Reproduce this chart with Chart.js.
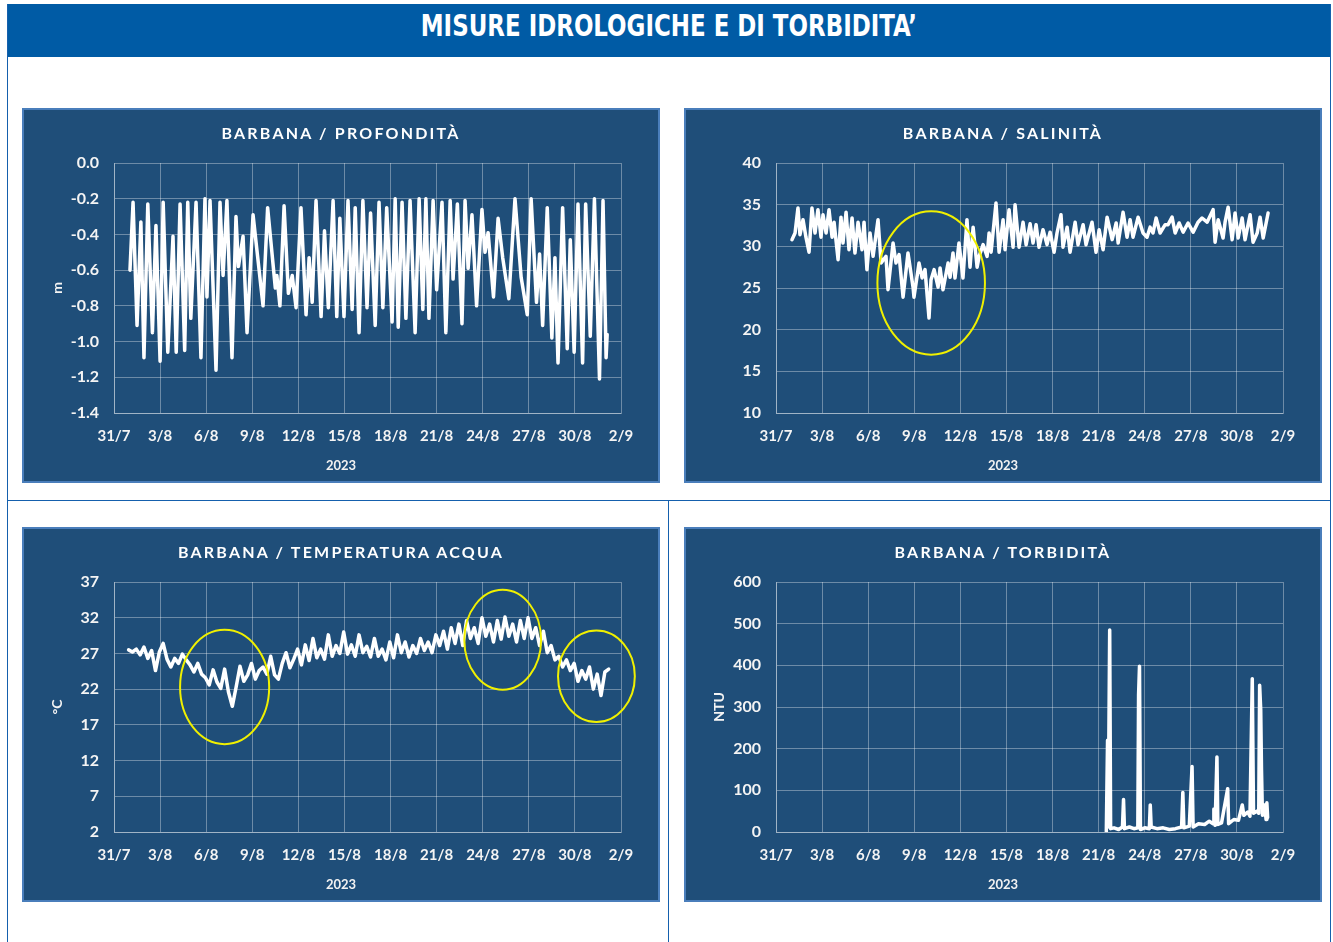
<!DOCTYPE html>
<html>
<head>
<meta charset="utf-8">
<title>Misure idrologiche e di torbidità</title>
<script src="https://cdn.jsdelivr.net/npm/chart.js@4.4.0/dist/chart.umd.min.js"></script>
<style>
  body { margin: 0; width: 1333px; height: 942px; background: #fff; position: relative; overflow: hidden; font-family: Lato, "Open Sans", sans-serif; }
  #header { position: absolute; left: 7px; top: 4px; width: 1323px; height: 53px; background: #005ba5; color: #fff;
    text-align: center; font: bold 30px "Liberation Sans Narrow", "DejaVu Sans Condensed", sans-serif; line-height: 30px; padding-top: 7px; box-sizing: border-box; }
  #header span { display: inline-block; transform: scaleX(0.85); transform-origin: center; }
  .line { position: absolute; background: #1560ad; }
  .panel { position: absolute; width: 638px; height: 375px; background: #1f4e79; border: 2px solid #4a7ebb; box-sizing: border-box; }
  .panel h2 { position: absolute; left: 0; right: 0; top: 13px; margin: 0; text-align: center; color: #fff;
    font: bold 16px Lato, sans-serif; line-height: 20px; letter-spacing: 2.2px; z-index: 2; }
  .panel .year { position: absolute; left: 0; right: 0; top: 347px; text-align: center; color: #f2f2f2;
    font: bold 13px Lato, sans-serif; line-height: 16px; z-index: 2; }
  .panel canvas { position: absolute; left: 0; top: 0; }
</style>
</head>
<body>
<div id="header"><span>MISURE IDROLOGICHE E DI TORBIDITA’</span></div>
<div class="line" style="left:7px;top:4px;width:1px;height:938px"></div>
<div class="line" style="left:1330px;top:4px;width:1px;height:938px"></div>
<div class="line" style="left:7px;top:500px;width:1324px;height:1px"></div>
<div class="line" style="left:668px;top:500px;width:1px;height:442px"></div>

<div class="panel" style="left:22px;top:108px"><h2>BARBANA / PROFONDITÀ</h2><canvas id="cDepth" width="634" height="371"></canvas><div class="year">2023</div></div>
<div class="panel" style="left:684px;top:108px"><h2>BARBANA / SALINITÀ</h2><canvas id="cSal" width="634" height="371"></canvas><div class="year">2023</div></div>
<div class="panel" style="left:22px;top:527px"><h2>BARBANA / TEMPERATURA ACQUA</h2><canvas id="cTemp" width="634" height="371"></canvas><div class="year">2023</div></div>
<div class="panel" style="left:684px;top:527px"><h2>BARBANA / TORBIDITÀ</h2><canvas id="cTurb" width="634" height="371"></canvas><div class="year">2023</div></div>

<script>
// x axis: days counted from 31/7 00:00
const tickLabels = ['31/7', '3/8', '6/8', '9/8', '12/8', '15/8', '18/8', '21/8', '24/8', '27/8', '30/8', '2/9'];

// depth (m), highs and lows
const depthDay = [1.04, 1.24, 1.5, 1.75, 1.95, 2.2, 2.5, 2.73, 3.0, 3.2, 3.5, 3.84, 4.05, 4.3, 4.6, 4.8, 5.0, 5.34, 5.66, 5.92,
  6.05, 6.25, 6.64, 6.9, 7.1, 7.35, 7.68, 7.94, 8.1, 8.4, 8.66, 9.05, 9.7, 10.0, 10.5, 10.6, 10.8, 11.07, 11.35, 11.6,
  11.85, 12.17, 12.5, 12.7, 12.9, 13.15, 13.48, 13.7, 13.95, 14.26, 14.5, 14.7, 14.97, 15.23, 15.5, 15.7, 15.95, 16.2, 16.47, 16.7,
  17.0, 17.25, 17.5, 17.75, 18.1, 18.3, 18.5, 18.75, 19.0, 19.27, 19.6, 19.86, 20.1, 20.3, 20.5, 20.77, 21.0, 21.35, 21.6, 21.88,
  22.07, 22.35, 22.65, 22.85, 23.05, 23.3, 23.6, 23.95, 24.15, 24.35, 24.7, 25.0, 25.3, 25.7, 26.1, 26.5, 26.9, 27.15, 27.5, 27.7,
  27.9, 28.2, 28.5, 28.7, 28.9, 29.2, 29.5, 29.7, 29.95, 30.2, 30.5, 30.7, 31.0, 31.27, 31.6, 31.83, 32.03, 32.1];
const depthVal = [-0.60, -0.22, -0.91, -0.33, -1.09, -0.23, -0.95, -0.35, -1.11, -0.22, -1.06, -0.41, -1.06, -0.23, -1.05, -0.22, -0.87, -0.22, -1.09, -0.20,
  -0.75, -0.21, -1.16, -0.22, -0.63, -0.21, -1.09, -0.30, -0.58, -0.41, -0.95, -0.29, -0.80, -0.25, -0.70, -0.63, -0.80, -0.24, -0.73, -0.63,
  -0.81, -0.25, -0.85, -0.53, -0.78, -0.21, -0.86, -0.38, -0.81, -0.21, -0.86, -0.31, -0.86, -0.21, -0.82, -0.25, -0.95, -0.21, -0.81, -0.28,
  -0.91, -0.22, -0.81, -0.25, -0.89, -0.20, -0.92, -0.22, -0.87, -0.21, -0.95, -0.20, -0.82, -0.20, -0.87, -0.21, -0.71, -0.22, -0.95, -0.21,
  -0.65, -0.23, -0.90, -0.21, -0.59, -0.29, -0.80, -0.26, -0.50, -0.39, -0.75, -0.31, -0.53, -0.76, -0.20, -0.64, -0.85, -0.20, -0.78, -0.51,
  -0.91, -0.25, -0.98, -0.53, -1.12, -0.25, -1.04, -0.43, -1.06, -0.23, -1.12, -0.23, -0.97, -0.20, -1.21, -0.21, -1.09, -0.96];

// salinity
const salDay = [1.04, 1.24, 1.43, 1.56, 1.76, 1.95, 2.15, 2.34, 2.54, 2.73, 2.93, 3.06, 3.26, 3.45, 3.65, 3.78, 4.04, 4.23, 4.36, 4.56,
  4.75, 4.95, 5.14, 5.34, 5.6, 5.73, 5.92, 6.12, 6.32, 6.64, 6.84, 7.16, 7.29, 7.62, 7.81, 8.01, 8.27, 8.59, 8.92, 8.98,
  9.31, 9.51, 9.7, 9.96, 10.09, 10.29, 10.55, 10.68, 10.87, 11.2, 11.33, 11.52, 11.65, 11.91, 12.17, 12.43, 12.63, 12.83, 13.09, 13.22,
  13.48, 13.74, 13.87, 14.0, 14.32, 14.52, 14.78, 14.91, 15.17, 15.43, 15.56, 15.82, 16.08, 16.28, 16.54, 16.73, 16.93, 17.12, 17.38, 17.64,
  17.84, 18.1, 18.29, 18.55, 18.68, 18.95, 19.14, 19.47, 19.66, 19.99, 20.18, 20.57, 20.83, 21.03, 21.29, 21.55, 21.88, 22.14, 22.27, 22.59,
  22.85, 23.05, 23.24, 23.57, 23.89, 24.15, 24.35, 24.54, 24.74, 25.0, 25.33, 25.52, 25.78, 25.98, 26.24, 26.5, 26.82, 27.15, 27.47, 27.73,
  28.06, 28.45, 28.58, 28.78, 29.1, 29.23, 29.43, 29.69, 29.88, 30.08, 30.34, 30.53, 30.86, 31.05, 31.32, 31.51, 31.71, 32.03];
const salVal = [30.8, 31.6, 34.6, 31.4, 33.2, 31.1, 29.3, 34.6, 31.6, 34.4, 31.1, 33.8, 31.6, 34.4, 31.1, 32.9, 28.4, 33.5, 30.4, 34.1,
  29.6, 33.4, 29.2, 32.9, 29.6, 32.9, 27.2, 31.6, 28.8, 33.2, 28.0, 28.8, 24.8, 30.4, 28.0, 29.0, 23.9, 29.2, 25.1, 23.9,
  28.0, 26.2, 27.2, 21.4, 26.0, 27.2, 25.1, 27.4, 24.8, 28.0, 26.3, 29.2, 26.2, 30.4, 26.2, 33.2, 27.5, 32.3, 27.5, 28.8,
  30.2, 28.8, 31.6, 29.3, 35.2, 29.3, 33.2, 29.6, 34.4, 29.9, 35.0, 29.9, 32.9, 30.2, 32.7, 30.4, 32.6, 29.9, 32.0, 30.2,
  31.7, 29.3, 31.6, 33.8, 29.9, 32.3, 29.3, 32.9, 30.2, 32.6, 30.2, 32.9, 29.3, 32.0, 29.6, 33.5, 30.8, 32.8, 30.4, 34.1,
  31.1, 33.2, 31.1, 33.5, 31.6, 31.1, 32.3, 31.6, 33.4, 31.6, 32.6, 32.6, 33.5, 31.6, 32.8, 31.7, 32.8, 31.7, 32.9, 33.4,
  32.9, 34.4, 30.5, 33.2, 31.0, 32.9, 34.7, 30.8, 34.0, 31.0, 33.4, 30.8, 33.8, 30.5, 31.6, 33.5, 31.0, 34.0];

// water temperature, four readings a day from 1/8 to 1/9
const tempStart = 0.95;
const tempStep = 0.25;
const tempVal = [
  27.5, 27.2, 27.6, 26.8, 27.9, 26.3, 27.4, 24.6, 27.2, 28.4, 26.2, 25.1, 26.3, 25.6, 26.9, 26.1,
  25.4, 24.4, 25.6, 24.1, 23.6, 22.6, 24.7, 23.0, 22.1, 24.8, 21.6, 19.6, 22.3, 25.2, 23.1, 24.0,
  25.6, 23.4, 24.6, 25.1, 24.1, 26.6, 24.0, 23.4, 25.6, 27.1, 25.0, 26.2, 27.6, 25.4, 28.2, 26.0,
  29.1, 26.4, 27.6, 26.2, 29.6, 26.6, 28.1, 27.0, 30.0, 26.9, 28.2, 26.6, 29.6, 27.1, 28.0, 26.5,
  29.1, 26.6, 27.6, 26.1, 28.6, 26.4, 29.6, 27.1, 28.6, 26.5, 28.1, 27.0, 29.1, 27.4, 28.6, 27.1,
  29.6, 28.1, 30.1, 27.6, 30.6, 28.4, 31.1, 28.1, 31.6, 29.1, 30.6, 28.4, 32.0, 29.4, 31.1, 28.6,
  31.6, 29.0, 32.1, 29.4, 31.1, 28.6, 31.6, 29.1, 32.0, 29.1, 30.6, 28.1, 30.1, 27.1, 28.1, 26.1,
  26.6, 25.1, 26.1, 24.6, 25.6, 23.1, 24.6, 23.4, 25.1, 22.0, 24.1, 21.1, 24.4, 24.8];

// turbidity (NTU), only from 21/8
const turbDay = [21.5, 21.58, 21.62, 21.72, 21.78, 22.0, 22.3, 22.55, 22.62, 22.68, 23.0, 23.3, 23.55, 23.6, 23.66, 23.72, 24.0, 24.3, 24.36, 24.42,
  24.8, 25.2, 25.6, 26.0, 26.4, 26.48, 26.55, 26.9, 27.08, 27.15, 27.5, 27.9, 28.2, 28.45, 28.5, 28.58, 28.7, 28.76, 29.0, 29.4,
  29.46, 29.8, 30.1, 30.35, 30.45, 30.7, 30.85, 31.0, 31.08, 31.3, 31.42, 31.48, 31.55, 31.6, 31.66, 31.8, 31.9, 31.95, 32.0];
const turbVal = [2, 220, 12, 485, 8, 10, 6, 12, 78, 8, 12, 8, 10, 330, 398, 6, 10, 8, 65, 12,
  8, 10, 6, 8, 12, 95, 10, 14, 157, 12, 20, 18, 26, 20, 55, 16, 180, 18, 22, 104,
  20, 30, 28, 65, 40, 48, 38, 368, 45, 50, 45, 352, 293, 150, 40, 65, 30, 70, 35];

// yellow rings: [day, value, half width in days, half height in units]
const salRings = [[10.1, 25.6, 3.5, 8.6]];
const tempRings = [[7.2, 22.3, 2.9, 8.0], [25.3, 28.9, 2.5, 7.0], [31.4, 23.8, 2.5, 6.4]];

Chart.defaults.font.family = 'Lato, "Open Sans", sans-serif';
Chart.defaults.color = '#f4f4f4';

const gridColor = 'rgba(255,255,255,0.35)';

function rings(marks) {
  return {
    id: 'rings',
    afterDatasetsDraw(chart) {
      const { ctx, scales: { x, y } } = chart;
      ctx.save();
      ctx.strokeStyle = '#f0f000';
      ctx.lineWidth = 2;
      marks.forEach(m => {
        const cx = x.getPixelForValue(m[0]);
        const cy = y.getPixelForValue(m[1]);
        const rx = Math.abs(x.getPixelForValue(m[0] + m[2]) - cx);
        const ry = Math.abs(y.getPixelForValue(m[1] + m[3]) - cy);
        ctx.beginPath();
        ctx.ellipse(cx, cy, rx, ry, 0, 0, Math.PI * 2);
        ctx.stroke();
      });
      ctx.restore();
    }
  };
}

function makeChart(id, points, yMin, yMax, yStep, yTitle, yDigits, marks) {
  return new Chart(document.getElementById(id), {
    type: 'line',
    data: {
      datasets: [{
        data: points,
        borderColor: '#ffffff',
        borderWidth: 3.5,
        borderJoinStyle: 'round',
        borderCapStyle: 'round',
        pointRadius: 0,
        tension: 0
      }]
    },
    options: {
      responsive: false,
      animation: false,
      events: [],
      layout: { padding: { top: 53, right: 37, left: 0, bottom: 28 } },
      plugins: {
        legend: { display: false },
        tooltip: { enabled: false }
      },
      scales: {
        x: {
          type: 'linear', min: 0, max: 33,
          ticks: {
            stepSize: 3, autoSkip: false, maxRotation: 0, padding: 14,
            font: { size: 15, weight: 'bold' },
            callback: v => tickLabels[Math.round(v / 3)]
          },
          grid: { color: gridColor, drawTicks: false },
          border: { color: gridColor },
          afterFit: s => { s.height = 40; }
        },
        y: {
          min: yMin, max: yMax,
          ticks: {
            stepSize: yStep, padding: 15,
            font: { size: 16, weight: 'bold' },
            callback: v => v.toFixed(yDigits)
          },
          title: { display: true, text: yTitle, font: { size: 14, weight: 'bold' }, padding: { top: 25, bottom: 0 } },
          grid: { color: gridColor, drawTicks: false },
          border: { color: gridColor },
          afterFit: s => { s.width = 90; }
        }
      }
    },
    plugins: marks ? [rings(marks)] : []
  });
}

const depthPts = depthDay.map((d, i) => ({ x: d, y: depthVal[i] }));
const salPts = salDay.map((d, i) => ({ x: d, y: salVal[i] }));
const tempPts = tempVal.map((v, i) => ({ x: tempStart + i * tempStep, y: v }));
const turbPts = turbDay.map((d, i) => ({ x: d, y: turbVal[i] }));

makeChart('cDepth', depthPts, -1.4, 0, 0.2, 'm', 1, null);
makeChart('cSal', salPts, 10, 40, 5, '', 0, salRings);
makeChart('cTemp', tempPts, 2, 37, 5, '°C', 0, tempRings);
makeChart('cTurb', turbPts, 0, 600, 100, 'NTU', 0, null);
</script>
</body>
</html>
